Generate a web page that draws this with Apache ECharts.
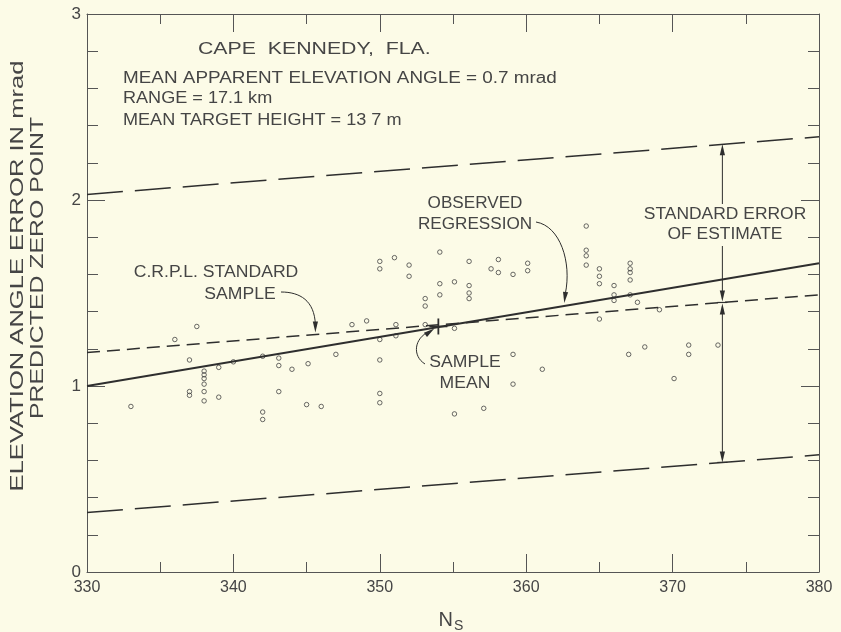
<!DOCTYPE html>
<html><head><meta charset="utf-8">
<script src="https://cdn.jsdelivr.net/npm/echarts@6/dist/echarts.min.js"></script>
<style>html,body{margin:0;padding:0;background:#fcfbe7;} #c{width:841px;height:632px;}</style>
</head><body><div id="c"></div>
<script>
// ---- data ----
const nsObs = [
  337.5,336.0,337.0,337.0,337.0,333.0,
  338.0,338.0,338.0,338.0,338.0,338.0,
  339.0,339.0,340.0,342.0,342.0,342.0,
  343.1,343.1,343.1,344.0,345.1,345.0,346.0,347.0,348.1,
  349.1,350.0,350.0,350.0,350.0,350.0,350.0,351.0,351.1,351.1,
  352.0,352.0,353.1,353.1,353.1,354.1,354.1,354.1,355.1,355.1,355.1,
  356.1,356.1,356.1,356.1,357.1,357.6,358.1,358.1,359.1,359.1,359.1,
  360.1,360.1,361.1,
  364.1,364.1,364.1,364.1,365.0,365.0,365.0,365.0,
  366.0,366.0,366.0,367.1,367.1,367.1,367.1,367.1,367.0,367.6,
  368.1,369.1,370.1,371.1,371.1,373.1
];
const errObs = [
  1.32,1.25,1.14,0.97,0.95,0.89,
  1.08,1.06,1.04,1.01,0.97,0.92,
  1.10,0.94,1.13,1.16,0.86,0.82,
  1.15,1.11,0.97,1.09,1.12,0.90,0.89,1.17,1.33,
  1.35,1.67,1.63,1.25,1.14,0.96,0.91,1.69,1.33,1.27,
  1.65,1.59,1.47,1.43,1.33,1.72,1.55,1.49,1.56,1.31,0.85,
  1.67,1.54,1.50,1.47,0.88,1.63,1.68,1.61,1.60,1.17,1.01,
  1.66,1.62,1.09,
  1.86,1.73,1.70,1.65,1.63,1.59,1.55,1.36,
  1.54,1.49,1.46,1.66,1.63,1.61,1.57,1.49,1.17,1.45,
  1.21,1.41,1.04,1.22,1.17,1.22
];
const lineNs = [330, 380];
const regression = [1.00, 1.66];
const crplStandard = [1.18, 1.49];
const upperLimit = [2.03, 2.34];
const lowerLimit = [0.32, 0.63];
const sampleMean = [354.0, 1.32];
const errorBarNs = 373.4;
const xTickLabels = ['330','340','350','360','370','380'];
const yTickLabels = ['0','1','2','3'];

// ---- chart ----
const FONT = '"Liberation Sans", Arial, sans-serif';
const INK = '#2e2e2e';
const TXT = '#454545';
const AX = '#555';
const chart = echarts.init(document.getElementById('c'));

function pairs(xs, ys) { return xs.map((x, i) => [x, ys[i]]); }

function xAxisDef(pos, showLabel) {
  return {
    type: 'value', min: 330, max: 380, interval: 10, position: pos,
    axisLine: { show: true, onZero: false, lineStyle: { color: AX, width: 1 } },
    axisTick: { show: true, inside: true, length: 18, lineStyle: { color: AX, width: 1 } },
    minorTick: { show: true, splitNumber: 2, length: 10, lineStyle: { color: AX, width: 1 } },
    splitLine: { show: false },
    axisLabel: { show: showLabel, color: TXT, fontFamily: FONT, fontSize: 16, margin: 8,
      formatter: v => xTickLabels[Math.round((v - 330) / 10)] }
  };
}
function yAxisDef(pos, showLabel) {
  return {
    type: 'value', min: 0, max: 3, interval: 1, position: pos,
    axisLine: { show: true, onZero: false, lineStyle: { color: AX, width: 1 } },
    axisTick: { show: true, inside: true, length: 18, lineStyle: { color: AX, width: 1 } },
    minorTick: { show: true, splitNumber: 5, length: 11, lineStyle: { color: AX, width: 1 } },
    splitLine: { show: false },
    axisLabel: { show: showLabel, color: TXT, fontFamily: FONT, fontSize: 17, margin: 6,
      formatter: v => yTickLabels[Math.round(v)] }
  };
}

chart.setOption({
  backgroundColor: '#fcfbe7',
  animation: false,
  grid: { left: 87, right: 22, top: 14, bottom: 60 },
  xAxis: [xAxisDef('bottom', true), xAxisDef('top', false)],
  yAxis: [yAxisDef('left', true), yAxisDef('right', false)],
  series: [
    { type: 'line', data: pairs(lineNs, upperLimit), symbol: 'none',
      lineStyle: { color: INK, width: 1.5, type: [36, 12] } },
    { type: 'line', data: pairs(lineNs, lowerLimit), symbol: 'none',
      lineStyle: { color: INK, width: 1.5, type: [36, 12] } },
    { type: 'line', data: pairs(lineNs, crplStandard), symbol: 'none',
      lineStyle: { color: INK, width: 1.5, type: [13, 7] } },
    { type: 'line', data: pairs(lineNs, regression), symbol: 'none',
      lineStyle: { color: INK, width: 1.8 } },
    { type: 'scatter', data: pairs(nsObs, errObs), symbol: 'circle', symbolSize: 4.5,
      itemStyle: { color: 'rgba(0,0,0,0)', borderColor: '#444', borderWidth: 1 } },
    { type: 'custom', data: [sampleMean], z: 5,
      renderItem: (params, api) => {
        const p = api.coord([api.value(0), api.value(1)]);
        return { type: 'group', children: [
          { type: 'line', shape: { x1: p[0], y1: p[1] - 8, x2: p[0], y2: p[1] + 8 }, style: { stroke: INK, lineWidth: 1.8 } },
          { type: 'line', shape: { x1: p[0] - 9, y1: p[1], x2: p[0] + 9, y2: p[1] }, style: { stroke: INK, lineWidth: 1.6 } }
        ]};
      } }
  ]
});

// ---- annotations ----
function lineAt(arr, ns) { return arr[0] + (arr[1] - arr[0]) * (ns - lineNs[0]) / (lineNs[1] - lineNs[0]); }
function px(ns, v) { return chart.convertToPixel({ xAxisIndex: 0, yAxisIndex: 0 }, [ns, v]); }
function head(tx, ty, ang, L, W) {
  L = L || 11; W = W || 2.6;
  const bx = tx - L * Math.cos(ang), by = ty - L * Math.sin(ang);
  const nx = -Math.sin(ang) * W, ny = Math.cos(ang) * W;
  return { type: 'polygon', shape: { points: [[tx, ty], [bx + nx, by + ny], [bx - nx, by - ny]] },
           style: { fill: INK }, z: 10 };
}
function txt(t, x, y, align, size, sx, extra) {
  return Object.assign({ type: 'text', x: x, y: y, scaleX: sx, z: 10,
    style: { text: t, fontFamily: FONT, fontSize: size, fill: TXT, align: align, verticalAlign: 'middle' } }, extra || {});
}
function seg(x1, y1, x2, y2, w) {
  return { type: 'line', shape: { x1, y1, x2, y2 }, style: { stroke: INK, lineWidth: w || 1 }, z: 10 };
}
function curve(x1, y1, c1x, c1y, c2x, c2y, x2, y2) {
  return { type: 'bezierCurve', shape: { x1, y1, cpx1: c1x, cpy1: c1y, cpx2: c2x, cpy2: c2y, x2, y2 },
           style: { stroke: INK, lineWidth: 1, fill: null }, z: 10 };
}

const g = [];
// header block
g.push(txt('CAPE  KENNEDY,  FLA.', 198, 50, 'left', 16, 1.33));
g.push(txt('MEAN APPARENT ELEVATION ANGLE = 0.7 mrad', 123, 79, 'left', 16, 1.18));
g.push(txt('RANGE = 17.1 km', 123, 99, 'left', 16, 1.13));
g.push(txt('MEAN TARGET HEIGHT = 13 7 m', 123, 121, 'left', 16, 1.13));
// y axis title
g.push(txt('ELEVATION ANGLE ERROR IN mrad', 18, 276, 'center', 18, 1.42, { rotation: Math.PI / 2 }));
g.push(txt('PREDICTED ZERO POINT', 38, 268, 'center', 18, 1.38, { rotation: Math.PI / 2 }));
// x axis title N_S
g.push({ type: 'text', x: 451, y: 620, z: 10, style: { text: '{n|N}{s|S}', fontFamily: FONT, fill: TXT, align: 'center', verticalAlign: 'middle',
  rich: { n: { fontSize: 20, fontFamily: FONT, fill: TXT }, s: { fontSize: 14, fontFamily: FONT, fill: TXT, padding: [12, 0, 0, 1] } } } });

// C.R.P.L. standard sample
g.push(txt('C.R.P.L. STANDARD', 216, 273, 'center', 16, 1.1));
g.push(txt('SAMPLE', 240, 295, 'center', 16, 1.1));
{
  const p = px(345.6, lineAt(crplStandard, 345.6));
  g.push(curve(281, 292, 300, 292, p[0] - 1, p[1] - 34, p[0], p[1] - 10));
  g.push(head(p[0], p[1] - 2, Math.PI / 2));
}
// observed regression
g.push(txt('OBSERVED', 475, 204, 'center', 16, 1.07));
g.push(txt('REGRESSION', 475, 225, 'center', 16, 1.07));
{
  const p = px(362.6, lineAt(regression, 362.6));
  g.push(curve(536, 222, 560, 226, 572, 262, p[0] + 1, p[1] - 12));
  g.push(head(p[0], p[1] - 3, Math.PI / 2 + 0.12));
}
// sample mean
g.push(txt('SAMPLE', 465, 363, 'center', 16, 1.1));
g.push(txt('MEAN', 465, 384, 'center', 16, 1.1));
{
  const p = px(sampleMean[0], sampleMean[1]);
  g.push(curve(425, 364, 412, 356, 414, 338, p[0] - 9, p[1] + 5));
  g.push(head(p[0] - 4, p[1] + 2, -Math.PI / 5));
}
// standard error of estimate
g.push(txt('STANDARD ERROR', 725, 215, 'center', 16, 1.09));
g.push(txt('OF ESTIMATE', 725, 235, 'center', 16, 1.09));
{
  const pu = px(errorBarNs, lineAt(upperLimit, errorBarNs));
  const pc = px(errorBarNs, lineAt(crplStandard, errorBarNs));
  const pl = px(errorBarNs, lineAt(lowerLimit, errorBarNs));
  const x = pu[0];
  g.push(seg(x, pu[1] + 4, x, 204));
  g.push(seg(x, 246, x, pc[1] - 4));
  g.push(seg(x, pc[1] + 4, x, pl[1] - 4));
  g.push(head(x, pu[1], -Math.PI / 2));
  g.push(head(x, pc[1] - 1, Math.PI / 2));
  g.push(head(x, pc[1] + 1, -Math.PI / 2));
  g.push(head(x, pl[1], Math.PI / 2));
  g.push(seg(x - 5, pc[1], x + 5, pc[1], 1.2));
  g.push(seg(x - 5, pl[1], x + 5, pl[1], 1.2));
}
chart.setOption({ graphic: g });
</script>
</body></html>
